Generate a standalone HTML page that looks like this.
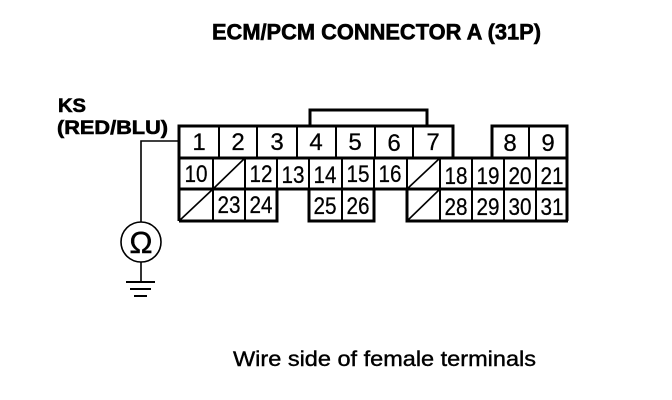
<!DOCTYPE html>
<html><head><meta charset="utf-8"><style>
html,body{margin:0;padding:0;background:#fff}
svg{display:block}
text{font-family:"Liberation Sans",sans-serif;fill:#000}
.n{font-size:24px;text-anchor:middle;stroke:#000;stroke-width:.25px}
.b{font-weight:bold;stroke:#000;stroke-width:.6px}
</style></head><body>
<svg width="672" height="400" viewBox="0 0 672 400" xmlns="http://www.w3.org/2000/svg">
<rect width="672" height="400" fill="#fff"/>
<text class="b" x="212" y="39.5" font-size="22" textLength="329" lengthAdjust="spacingAndGlyphs">ECM/PCM CONNECTOR A (31P)</text>
<text class="b" x="58" y="112" font-size="19" textLength="28" lengthAdjust="spacingAndGlyphs">KS</text>
<text class="b" x="57" y="134" font-size="19" textLength="111" lengthAdjust="spacingAndGlyphs">(RED/BLU)</text>
<text x="233" y="366" font-size="21" stroke="#000" stroke-width=".4" textLength="303" lengthAdjust="spacingAndGlyphs">Wire side of female terminals</text>

<g fill="none" stroke="#000" stroke-width="2">
<path d="M219 126V158M257 126V158M297 126V158M336 126V158M375 126V158M413 126V158M529 126V158"/>
<path d="M213 158V221M245 158V221M277 158V189M309 158V221M342 158V221M374 158V221M407 158V221M440 158V221M472 158V221M504 158V221M536 158V221"/>
</g>
<g fill="none" stroke="#000" stroke-width="3">
<path d="M310 126V110H427V126"/>
<path d="M179 221V126H453V158"/>
<path d="M492 158V126H567V221"/>
<path d="M179 158H568"/>
<path d="M179 189H568"/>
<path d="M179 221H277V189"/>
<path d="M309 189V221H374V189"/>
<path d="M407 189V221H568"/>
</g>
<g stroke="#000" stroke-width="1.6" fill="none">
<path d="M213 189L245 158"/>
<path d="M179 221L213 189"/>
<path d="M407 189L440 158"/>
<path d="M407 221L440 189"/>
</g>

<g class="nums">
<text class="n" x="199" y="150">1</text>
<text class="n" x="238" y="150">2</text>
<text class="n" x="277" y="150">3</text>
<text class="n" x="316" y="150">4</text>
<text class="n" x="355" y="150">5</text>
<text class="n" x="394" y="151">6</text>
<text class="n" x="433" y="150">7</text>
<text class="n" x="510" y="151">8</text>
<text class="n" x="548" y="151">9</text>
<text class="n" x="196" y="182" textLength="23" lengthAdjust="spacingAndGlyphs">10</text>
<text class="n" x="261" y="182" textLength="23" lengthAdjust="spacingAndGlyphs">12</text>
<text class="n" x="293" y="183" textLength="23" lengthAdjust="spacingAndGlyphs">13</text>
<text class="n" x="325" y="183" textLength="23" lengthAdjust="spacingAndGlyphs">14</text>
<text class="n" x="358" y="182" textLength="23" lengthAdjust="spacingAndGlyphs">15</text>
<text class="n" x="390" y="182" textLength="23" lengthAdjust="spacingAndGlyphs">16</text>
<text class="n" x="456" y="184" textLength="23" lengthAdjust="spacingAndGlyphs">18</text>
<text class="n" x="488" y="184" textLength="23" lengthAdjust="spacingAndGlyphs">19</text>
<text class="n" x="520" y="184" textLength="23" lengthAdjust="spacingAndGlyphs">20</text>
<text class="n" x="552" y="184" textLength="23" lengthAdjust="spacingAndGlyphs">21</text>
<text class="n" x="229" y="213" textLength="23" lengthAdjust="spacingAndGlyphs">23</text>
<text class="n" x="261" y="213" textLength="23" lengthAdjust="spacingAndGlyphs">24</text>
<text class="n" x="325" y="214" textLength="23" lengthAdjust="spacingAndGlyphs">25</text>
<text class="n" x="358" y="214" textLength="23" lengthAdjust="spacingAndGlyphs">26</text>
<text class="n" x="456" y="215" textLength="23" lengthAdjust="spacingAndGlyphs">28</text>
<text class="n" x="488" y="215" textLength="23" lengthAdjust="spacingAndGlyphs">29</text>
<text class="n" x="520" y="215" textLength="23" lengthAdjust="spacingAndGlyphs">30</text>
<text class="n" x="552" y="215" textLength="23" lengthAdjust="spacingAndGlyphs">31</text>
</g>

<g fill="none" stroke="#000">
<path d="M179 141H141V222" stroke-width="1.6"/>
<circle cx="141" cy="242" r="20" stroke-width="1.6"/>
<path d="M141 262V282" stroke-width="1.6"/>
<path d="M126 282H155" stroke-width="2"/>
<path d="M130 289H151" stroke-width="2"/>
<path d="M134 296H147" stroke-width="2"/>
</g>
<text x="141" y="253" font-size="31" text-anchor="middle" stroke="#000" stroke-width=".4">Ω</text>
</svg>
</body></html>
